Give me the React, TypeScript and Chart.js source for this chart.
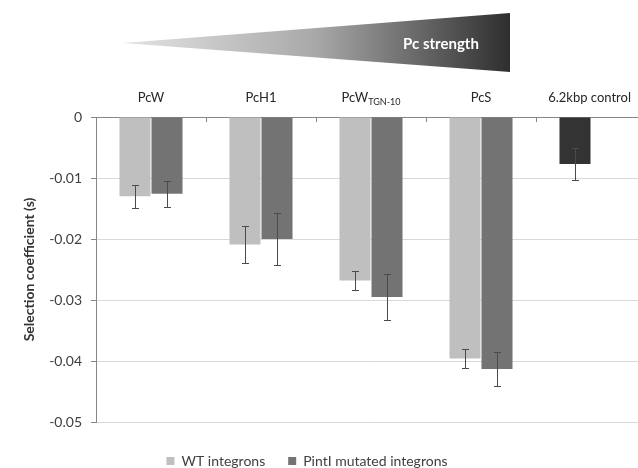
import { useEffect, useRef } from 'react';
import { Chart, registerables } from 'chart.js';

Chart.register(...registerables);

const categories = ['PcW', 'PcH1', 'PcW_{TGN-10}', 'PcS', '6.2kbp control'];
const seriesLabels = ['WT integrons', 'PintI mutated integrons', '6.2kbp control'];
const wtValues = [-0.013, -0.0209, -0.0268, -0.0396, null];
const wtErrors = [0.0019, 0.003, 0.0016, 0.0016, null];
const mutValues = [-0.0126, -0.02, -0.0295, -0.0413, null];
const mutErrors = [0.0021, 0.0042, 0.0038, 0.0028, null];
const controlValues = [null, null, null, null, -0.0077];
const controlErrors = [null, null, null, null, 0.0026];
const yTicks = [0, -0.01, -0.02, -0.03, -0.04, -0.05];
const bannerText = 'Pc strength';

const FONT = 'Lato, "Open Sans", sans-serif';

const decorPlugin = {
  id: 'decor',
  afterLayout(chart: any) {
    const lg = chart.legend;
    if (lg) {
      lg.top += 9;
      lg.bottom += 9;
      lg.left -= 16;
      lg.right -= 16;
    }
  },
  afterDraw(chart: any) {
    const ctx = chart.ctx;
    const x = chart.scales.x;
    const area = chart.chartArea;
    ctx.save();
    // banner (gradient wedge)
    const tipX = 123, tipY = 43, rx = 510, rTop = 13, rBot = 72;
    const g = ctx.createLinearGradient(tipX, 0, rx, 0);
    g.addColorStop(0, '#e4e4e4');
    g.addColorStop(0.5, '#a8a8a8');
    g.addColorStop(1, '#2e2e2e');
    ctx.beginPath();
    ctx.moveTo(tipX, tipY);
    ctx.lineTo(rx, rTop);
    ctx.lineTo(rx, rBot);
    ctx.closePath();
    ctx.fillStyle = g;
    ctx.fill();
    ctx.fillStyle = '#ffffff';
    ctx.font = `bold 15px ${FONT}`;
    ctx.textAlign = 'center';
    ctx.textBaseline = 'middle';
    ctx.fillText(bannerText, 441, 44);

    // tick marks between categories (pointing down into plot)
    ctx.strokeStyle = '#868686';
    ctx.lineWidth = 1;
    for (let i = 0; i < categories.length - 1; i++) {
      const bx = Math.round((x.getPixelForValue(i) + x.getPixelForValue(i + 1)) / 2) + 0.5;
      ctx.beginPath();
      ctx.moveTo(bx, area.top);
      ctx.lineTo(bx, area.top + 5);
      ctx.stroke();
    }

    // category labels with subscript support
    ctx.fillStyle = '#262626';
    ctx.textAlign = 'left';
    ctx.textBaseline = 'alphabetic';
    const baseY = area.top - 15;
    categories.forEach((lab, i) => {
      const m = lab.match(/^(.*)_\{(.*)\}$/);
      const main = m ? m[1] : lab;
      const sub = m ? m[2] : '';
      ctx.font = `13px ${FONT}`;
      const w1 = ctx.measureText(main).width;
      ctx.font = `9px ${FONT}`;
      const w2 = sub ? ctx.measureText(sub).width : 0;
      const total = w1 + w2;
      let left = x.getPixelForValue(i) - total / 2;
      if (left + total > 631) left = 631 - total;
      ctx.font = `13px ${FONT}`;
      ctx.fillText(main, left, baseY);
      if (sub) {
        ctx.font = `9px ${FONT}`;
        ctx.fillText(sub, left + w1, baseY + 3);
      }
    });
    ctx.restore();
  },
};

const errorBarPlugin = {
  id: 'errorBars',
  afterDatasetsDraw(chart: any) {
    const ctx = chart.ctx;
    const y = chart.scales.y;
    ctx.save();
    ctx.strokeStyle = '#4a4a4a';
    ctx.lineWidth = 1;
    chart.data.datasets.forEach((ds: any, di: number) => {
      const meta = chart.getDatasetMeta(di);
      meta.data.forEach((bar: any, i: number) => {
        const v = ds.data[i];
        const e = ds.errors[i];
        if (v == null || e == null) return;
        const cx = Math.round(bar.x) + 0.5;
        const y1 = Math.round(y.getPixelForValue(v + e)) + 0.5;
        const y2 = Math.round(y.getPixelForValue(v - e)) + 0.5;
        ctx.beginPath();
        ctx.moveTo(cx, y1);
        ctx.lineTo(cx, y2);
        ctx.moveTo(cx - 3.5, y1);
        ctx.lineTo(cx + 3.5, y1);
        ctx.moveTo(cx - 3.5, y2);
        ctx.lineTo(cx + 3.5, y2);
        ctx.stroke();
      });
    });
    ctx.restore();
  },
};

export default function App() {
  const ref = useRef<HTMLCanvasElement | null>(null);
  useEffect(() => {
    if (!ref.current) return;
    const chart = new Chart(ref.current, {
      type: 'bar',
      data: {
        labels: categories,
        datasets: [
          {
            label: seriesLabels[0],
            data: wtValues,
            errors: wtErrors,
            backgroundColor: '#bfbfbf',
            stack: 'a',
          } as any,
          {
            label: seriesLabels[1],
            data: mutValues,
            errors: mutErrors,
            backgroundColor: '#737373',
            stack: 'b',
          } as any,
          {
            label: seriesLabels[2],
            data: controlValues,
            errors: controlErrors,
            backgroundColor: '#333333',
            stack: 'a',
          } as any,
        ],
      },
      options: {
        responsive: false,
        animation: false,
        devicePixelRatio: 1,
        layout: { padding: { left: 0, right: 14, top: 0, bottom: -1 } },
        datasets: {
          bar: { categoryPercentage: 0.582, barPercentage: 0.969, borderWidth: 0 },
        },
        scales: {
          x: {
            type: 'category',
            position: 'top',
            offset: true,
            afterFit: (s: any) => {
              s.height = 117;
            },
            ticks: { display: false },
            grid: { display: true, drawOnChartArea: false, drawTicks: false, offset: true },
            border: { display: true, color: '#868686', width: 1 },
          },
          y: {
            type: 'linear',
            min: -0.05,
            max: 0,
            afterFit: (s: any) => {
              s.width = 96;
            },
            afterBuildTicks: (s: any) => {
              s.ticks = yTicks.map((v) => ({ value: v }));
            },
            ticks: {
              padding: 9,
              color: '#404040',
              font: { family: FONT, size: 14 },
              callback: (v: any) => (v === 0 ? '0' : String(Number(v).toFixed(2))),
            },
            grid: { color: '#d9d9d9', tickColor: '#868686', tickLength: 5, lineWidth: 1 },
            border: { display: true, color: '#868686', width: 1 },
            title: {
              display: true,
              text: 'Selection coefficient (s)',
              color: '#333333',
              font: { family: FONT, size: 14, weight: 'bold' },
              padding: { top: 21, bottom: 0 },
            },
          },
        },
        plugins: {
          legend: {
            position: 'bottom',
            labels: {
              boxWidth: 8,
              boxHeight: 8,
              padding: 23,
              color: '#404040',
              font: { family: FONT, size: 14 },
              filter: (item: any) => item.datasetIndex < 2,
            },
          },
          tooltip: { enabled: false },
        },
      } as any,
      plugins: [decorPlugin, errorBarPlugin],
    });
    return () => chart.destroy();
  }, []);
  return (
    <div style={{ position: 'absolute', left: 0, top: 0, width: 638, height: 468, overflow: 'hidden', background: '#fff' }}>
      <canvas ref={ref} width={660} height={468} style={{ display: 'block' }} />
    </div>
  );
}
